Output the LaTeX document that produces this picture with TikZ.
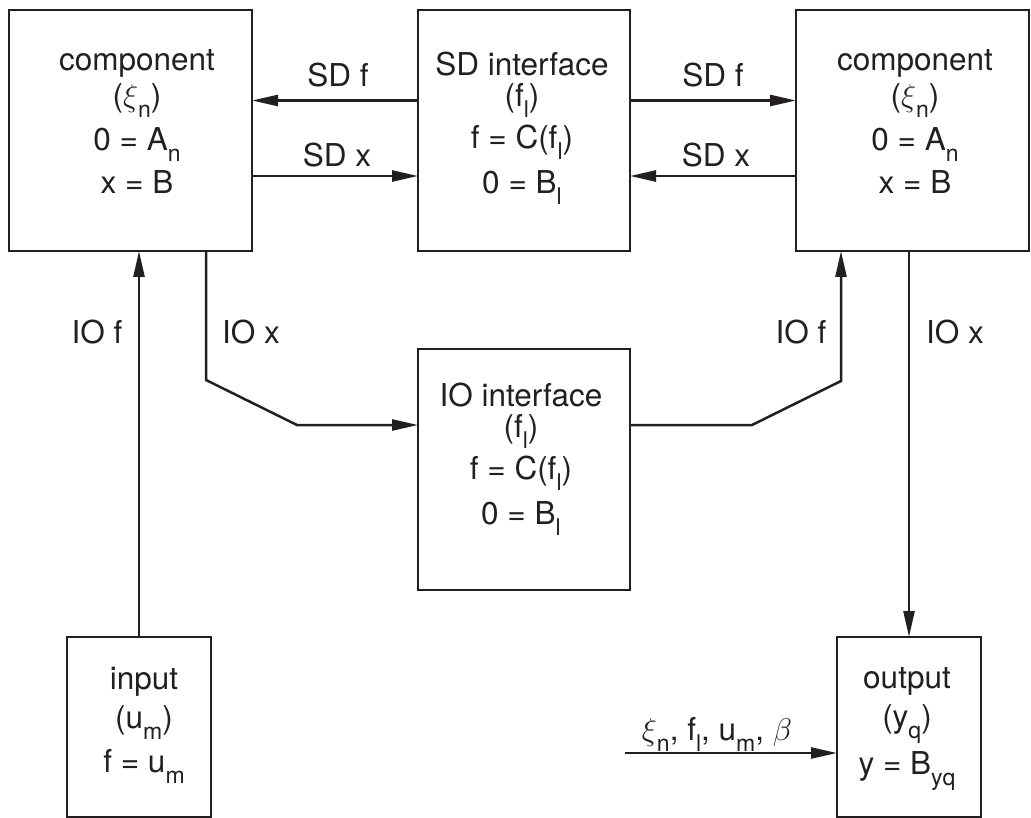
\documentclass[tikz,border=0pt]{standalone}
\usepackage{fix-cm}
\usepackage{fontspec}
\setmainfont{TeX Gyre Heros}
\usetikzlibrary{arrows.meta}
\definecolor{ink}{HTML}{231F20}
\newcommand\sbx[1]{\raisebox{-11pt}{\fontsize{23}{23}\selectfont #1}}
\newcommand\topstrut{\rule{0pt}{30pt}}
\begin{document}
\begin{tikzpicture}[x=1pt,y=-1pt,
  box/.style={draw=ink,line width=2.5pt,inner sep=0pt,outer sep=0pt},
  txt/.style={text=ink,font={\fontsize{31.5}{33}\selectfont\lineskiplimit=-100pt\lineskip=0pt},align=center,inner sep=0pt,anchor=north},
  lbl/.style={text=ink,font={\fontsize{31.5}{33}\selectfont},inner sep=0pt,anchor=base},
  conn/.style={draw=ink,line width=2.5pt},
  arr/.style={conn,-{Triangle[length=26pt,width=11pt]}}]
\useasboundingbox (0,0) rectangle (1031,818);
% boxes
\node[box,minimum width=243pt,minimum height=241pt] (lc) at (130.5,130.5) {};
\node[box,minimum width=212pt,minimum height=241pt] (sd) at (524,130.5) {};
\node[box,minimum width=233pt,minimum height=241pt] (rc) at (912.5,130.5) {};
\node[box,minimum width=212pt,minimum height=241pt] (io) at (524,469.5) {};
\node[box,minimum width=144pt,minimum height=180pt] (in) at (139,727) {};
\node[box,minimum width=144pt,minimum height=180pt] (out) at (909,727) {};
% box texts
\node[txt] (lct) at (137,40) {\topstrut component\\[3pt] ($\xi$\sbx{n})\\[11pt] 0 = A\sbx{n}\\[10pt] x = B};
\node[txt] (sdt) at (522,45) {\topstrut SD interface\\[-2pt] (f\sbx{l})\\[9pt] f = C(f\sbx{l})\\[12pt] 0 = B\sbx{l}};
\node[txt] (rct) at (915,40) {\topstrut component\\[3pt] ($\xi$\sbx{n})\\[11pt] 0 = A\sbx{n}\\[10pt] x = B};
\node[txt] (iot) at (521,376) {\topstrut IO interface\\[-2pt] (f\sbx{l})\\[9pt] f = C(f\sbx{l})\\[12pt] 0 = B\sbx{l}};
\node[txt] (int) at (144,659) {\topstrut input\\[6pt] (u\sbx{m})\\[11pt] f = u\sbx{m}};
\node[txt] (outt) at (907,658) {\topstrut output\\[6pt] (y\sbx{q})\\[14pt] y = B\sbx{yq}};
% connectors
\draw[arr] ([yshift=30pt]sd.west) -- ([yshift=30pt]lc.east);
\draw[arr] ([yshift=-45.5pt]lc.east) -- ([yshift=-45.5pt]sd.west);
\draw[arr] ([yshift=30pt]sd.east) -- ([yshift=30pt]rc.west);
\draw[arr] ([yshift=-45.5pt]rc.west) -- ([yshift=-45.5pt]sd.east);
\draw[arr] (in.north) -- (in.north |- lc.south);
\draw[arr] ([xshift=75.5pt]lc.south) -- ++(0,129) -- ++(91,45) -- ([yshift=44.5pt]io.west);
\draw[arr] ([yshift=44.5pt]io.east) -- ++(122,0) -- ++(89,-44) -- ([xshift=-71.5pt]rc.south);
\draw[arr] ([xshift=-3.5pt]rc.south) -- (out.north);
\coordinate (src) at (625,753);
\draw[arr] (src) -- (src -| out.west);
% labels
\node[lbl] (l1) at (338,87) {SD f};
\node[lbl] (l2) at (337,167) {SD x};
\node[lbl] (l3) at (713,87) {SD f};
\node[lbl] (l4) at (716,167) {SD x};
\node[lbl] (l5) at (97,344) {IO f};
\node[lbl] (l6) at (251,344) {IO x};
\node[lbl] (l7) at (801,344) {IO f};
\node[lbl] (l8) at (955,344) {IO x};
\node[lbl] (l9) at (717,740) {$\xi$\sbx{n}, f\sbx{l}, u\sbx{m}, $\beta$};
\end{tikzpicture}
\end{document}
